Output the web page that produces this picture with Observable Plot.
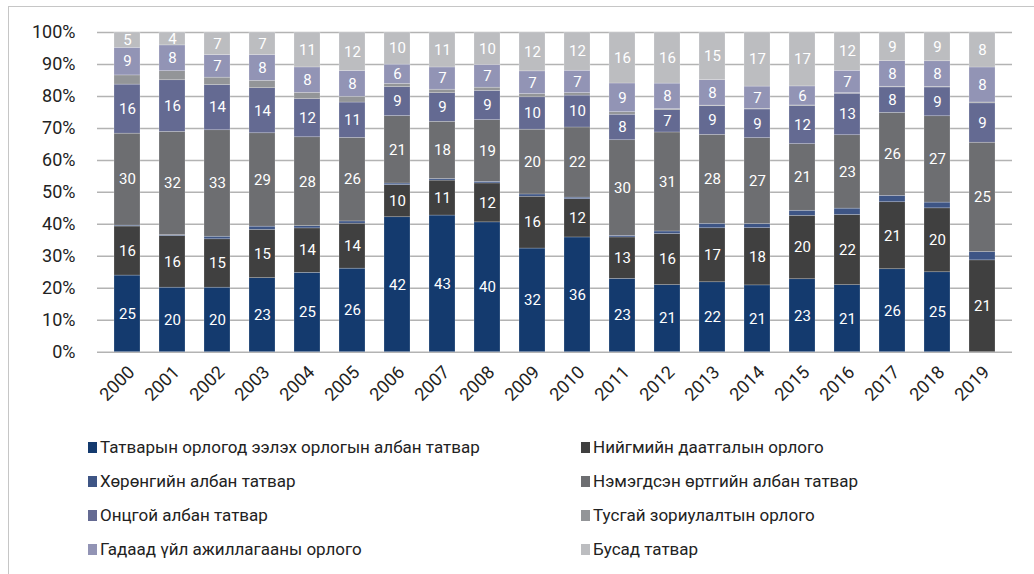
<!DOCTYPE html>
<html><head><meta charset="utf-8">
<script src="https://cdn.jsdelivr.net/npm/d3@7"></script>
<script src="https://cdn.jsdelivr.net/npm/@observablehq/plot@0.6"></script>
<style>
body{margin:0;background:#fff;font-family:Roboto,sans-serif;}
#wrap{position:relative;width:1034px;height:574px;overflow:hidden;}
#frame{position:absolute;left:8px;top:6px;width:1200px;height:800px;border:1.5px solid #c6c6c6;box-sizing:border-box;}
#chart{position:absolute;left:0;top:0;}
#legend{position:absolute;left:0;top:430px;width:1034px;}
.item{position:absolute;height:34px;display:flex;align-items:center;font-size:17px;color:#222;white-space:nowrap;}
.sw{display:inline-block;width:9px;height:11px;margin-right:3px;}
</style></head>
<body><div id="wrap"><div id="frame"></div><div id="chart"></div><div id="legend"></div></div>
<script>
const years = ["2000","2001","2002","2003","2004","2005","2006","2007","2008","2009","2010","2011","2012","2013","2014","2015","2016","2017","2018","2019"];
const series = [
  "Татварын орлогод ээлэх орлогын албан татвар",
  "Нийгмийн даатгалын орлого",
  "Хөрөнгийн албан татвар",
  "Нэмэгдсэн өртгийн албан татвар",
  "Онцгой албан татвар",
  "Тусгай зориулалтын орлого",
  "Гадаад үйл ажиллагааны орлого",
  "Бусад татвар"
];
const colors = ["#143a6e","#404040","#3e5585","#6d6e71","#646a92","#939598","#9294b5","#bcbdc0"];
const incomeTax   = [25,20,20,23,25,26,42,43,40,32,36,23,21,22,21,23,21,26,25,0];
const socialIns   = [16,16,15,15,14,14,10,11,12,16,12,13,16,17,18,20,22,21,20,21];
const propertyTax = [0.3,0.3,0.8,1,0.7,0.7,0.5,0.5,0.5,0.7,0.5,0.5,0.8,1.4,1.3,1.6,2,2,1.8,1.9];
const vat         = [30,32,33,29,28,26,21,18,19,20,22,30,31,28,27,21,23,26,27,25];
const excise      = [16,16,14,14,12,11,9,9,9,10,10,8,7,9,9,12,13,8,9,9];
const special     = [3,2.8,2.3,2.3,2,1.8,1,1.1,1,1,0.8,0.8,0.3,0.2,0.2,0.2,0.2,0.2,0.2,0.2];
const foreign     = [9,8,7,8,8,8,6,7,7,7,7,9,8,8,7,6,7,8,8,8];
const other       = [5,4,7,7,11,12,10,11,10,12,12,16,16,15,17,17,12,9,9,8];
const yTicks = [0,0.1,0.2,0.3,0.4,0.5,0.6,0.7,0.8,0.9,1];
const unlabeled = [series[2], series[5]];

const vals = [incomeTax, socialIns, propertyTax, vat, excise, special, foreign, other];
const data = [];
years.forEach((yr, i) => series.forEach((s, j) => data.push({year: yr, series: s, value: vals[j][i]})));

const chart = Plot.plot({
  width: 1034, height: 420,
  marginLeft: 97, marginRight: 22, marginTop: 32, marginBottom: 68.3,
  x: {domain: years, paddingInner: 0.43, paddingOuter: 0.2, label: null},
  y: {domain: [0, 1], label: null},
  color: {domain: series, range: colors},
  style: {fontFamily: "Roboto", fontSize: "18px", color: "#222", background: "transparent"},
  marks: [
    Plot.ruleY(yTicks, {stroke: "#b3b3b3", strokeWidth: 1.5}),
    Plot.barY(data, Plot.stackY({x: "year", y: "value", z: "series", fill: "series", order: series, offset: "normalize",
      stroke: "#fff", strokeOpacity: 0.35, strokeWidth: 0.6})),
    Plot.text(data, Plot.stackY({x: "year", y: "value", z: "series", order: series, offset: "normalize",
      text: d => (unlabeled.includes(d.series) || !d.value) ? "" : String(d.value),
      fill: "white", fontSize: 15})),
    Plot.axisX({tickSize: 0, tickRotate: -45, tickPadding: 8, dx: 4, dy: 9, label: null, fill: "#222"}),
    Plot.axisY({ticks: yTicks, tickFormat: d => Math.round(d * 100) + "%", tickSize: 0, tickPadding: 22, label: null, fill: "#222"})
  ]
});
document.getElementById("chart").appendChild(chart);

const legend = document.getElementById("legend");
series.forEach((s, j) => {
  const col = j % 2, row = Math.floor(j / 2);
  const it = document.createElement("div");
  it.className = "item";
  it.style.left = (col ? 581 : 88) + "px";
  it.style.top = (row * 34) + "px";
  it.innerHTML = `<span class="sw" style="background:${colors[j]}"></span><span>${s}</span>`;
  legend.appendChild(it);
});
</script></body></html>
